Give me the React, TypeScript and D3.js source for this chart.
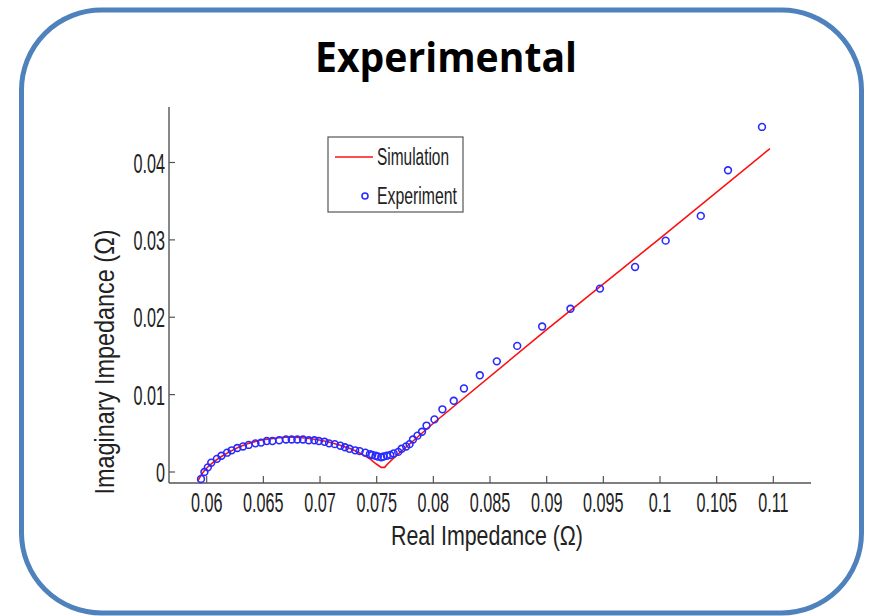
import React from "react";
import * as d3 from "d3";

const expX = [0.0595, 0.0598, 0.0601, 0.0604, 0.0609, 0.0613, 0.0618, 0.0622, 0.0627, 0.0632, 0.0637, 0.0643, 0.0648, 0.0653, 0.0658, 0.0664, 0.0670, 0.0675, 0.0680, 0.0685, 0.0690, 0.0695, 0.0699, 0.0704, 0.0708, 0.0713, 0.0718, 0.0722, 0.0726, 0.0731, 0.0735, 0.0740, 0.0744, 0.0746, 0.0749, 0.0751, 0.0754, 0.0756, 0.0759, 0.0762, 0.0765, 0.0769, 0.0772, 0.0776, 0.0779, 0.0782, 0.0786, 0.0790, 0.0794, 0.0801, 0.0808, 0.0818, 0.0827, 0.0841, 0.0856, 0.0874, 0.0896, 0.0921, 0.0947, 0.0978, 0.1005, 0.1036, 0.1060, 0.1090];
const expY = [-0.0009, 0.0000, 0.0006, 0.0012, 0.0017, 0.0021, 0.0025, 0.0028, 0.0031, 0.0033, 0.0035, 0.0037, 0.0038, 0.0040, 0.0040, 0.0041, 0.0042, 0.0042, 0.0042, 0.0042, 0.0041, 0.0041, 0.0040, 0.0039, 0.0037, 0.0036, 0.0034, 0.0032, 0.0030, 0.0028, 0.0027, 0.0025, 0.0023, 0.0022, 0.0021, 0.0020, 0.0019, 0.0020, 0.0021, 0.0022, 0.0024, 0.0026, 0.0030, 0.0033, 0.0036, 0.0042, 0.0047, 0.0052, 0.0060, 0.0068, 0.0081, 0.0092, 0.0108, 0.0125, 0.0143, 0.0163, 0.0188, 0.0211, 0.0237, 0.0265, 0.0299, 0.0331, 0.0390, 0.0446];

const simX = [0.0592, 0.0595, 0.0598, 0.0602, 0.0607, 0.0613, 0.0620, 0.0628, 0.0637, 0.0647, 0.0657, 0.0667, 0.0677, 0.0687, 0.0697, 0.0707, 0.0717, 0.0727, 0.0736, 0.0744, 0.0750, 0.0754, 0.0757, 0.0760, 0.0765, 0.0775, 0.0800, 0.0900, 0.1000, 0.1097];
const simY = [-0.0012, -0.0004, 0.0002, 0.0008, 0.0014, 0.0020, 0.0026, 0.0032, 0.0037, 0.0041, 0.0043, 0.0045, 0.0045, 0.0044, 0.0042, 0.0039, 0.0035, 0.0030, 0.0024, 0.0017, 0.0010, 0.0006, 0.0006, 0.0011, 0.0018, 0.0031, 0.0063, 0.0184, 0.0302, 0.0418];

const xTicks = [0.06, 0.065, 0.07, 0.075, 0.08, 0.085, 0.09, 0.095, 0.1, 0.105, 0.11];
const xTickLabels = ["0.06", "0.065", "0.07", "0.075", "0.08", "0.085", "0.09", "0.095", "0.1", "0.105", "0.11"];
const yTicks = [0, 0.01, 0.02, 0.03, 0.04];
const yTickLabels = ["0", "0.01", "0.02", "0.03", "0.04"];

const title = "Experimental";
const xLabel = "Real Impedance (Ω)";
const yLabel = "Imaginary Impedance (Ω)";
const seriesNames = ["Simulation", "Experiment"];

export default function App() {
  const W = 871, H = 616;
  const x = d3.scaleLinear().domain([0.06, 0.1]).range([206.7, 660]);
  const y = d3.scaleLinear().domain([0, 0.04]).range([472, 162.5]);
  const axL = 169, axB = 483, axR = 811, axT = 107;
  const line = d3.line<number>().x((_, i) => x(simX[i])).y((_, i) => y(simY[i]));
  const axisColor = "#555";
  const font = "'Liberation Sans', Arial, sans-serif";
  const sx = 0.6;
  return (
    <svg width={W} height={H} style={{ position: "absolute", left: 0, top: 0, background: "#fff" }}>
      <rect x={21.5} y={10} width={840} height={603} rx={80} ry={80} fill="none" stroke="#4F81BD" strokeWidth={5} />
      <text x={446} y={72} textAnchor="middle" fontFamily="'Open Sans', sans-serif" fontWeight="bold" fontSize={41} textLength={262} lengthAdjust="spacingAndGlyphs">{title}</text>
      {/* axes */}
      <line x1={axL} y1={axT} x2={axL} y2={axB} stroke={axisColor} strokeWidth={1.4} />
      <line x1={axL} y1={axB} x2={axR} y2={axB} stroke={axisColor} strokeWidth={1.4} />
      {xTicks.map((t, i) => (
        <g key={"xt" + i}>
          <line x1={x(t)} x2={x(t)} y1={axB} y2={axB - 7} stroke={axisColor} strokeWidth={1.2} />
          <text transform={`translate(${x(t)},${512}) scale(${sx},1)`} textAnchor="middle" fontFamily={font} fontSize={27} fill="#222">{xTickLabels[i]}</text>
        </g>
      ))}
      {yTicks.map((t, i) => (
        <g key={"yt" + i}>
          <line x1={axL} x2={axL + 6} y1={y(t)} y2={y(t)} stroke={axisColor} strokeWidth={1.2} />
          <text transform={`translate(${165},${y(t) + 10}) scale(${sx},1)`} textAnchor="end" fontFamily={font} fontSize={27} fill="#222">{yTickLabels[i]}</text>
        </g>
      ))}
      <text x={487} y={545} textAnchor="middle" fontFamily={font} fontSize={27} fill="#222" textLength={192} lengthAdjust="spacingAndGlyphs">{xLabel}</text>
      <g transform="translate(114,362) rotate(-90)">
        <text x={0} y={0} textAnchor="middle" fontFamily={font} fontSize={27} fill="#222" textLength={265} lengthAdjust="spacingAndGlyphs">{yLabel}</text>
      </g>
      {/* simulation */}
      <path d={line(simX) || ""} fill="none" stroke="#ff1010" strokeWidth={1.6} />
      {/* experiment */}
      {expX.map((v, i) => (
        <circle key={"e" + i} cx={x(v)} cy={y(expY[i])} r={3.4} fill="none" stroke="#2a2aff" strokeWidth={1.6} />
      ))}
      {/* legend */}
      <rect x={328} y={137} width={135} height={75} fill="#fff" stroke="#555" strokeWidth={1.2} />
      <line x1={335} x2={373} y1={157} y2={157} stroke="#ff1010" strokeWidth={1.6} />
      <text x={377} y={165} fontFamily={font} fontSize={23} fill="#222" textLength={72} lengthAdjust="spacingAndGlyphs">{seriesNames[0]}</text>
      <circle cx={365} cy={196} r={3} fill="none" stroke="#2a2aff" strokeWidth={1.6} />
      <text x={377} y={204} fontFamily={font} fontSize={23} fill="#222" textLength={80} lengthAdjust="spacingAndGlyphs">{seriesNames[1]}</text>
    </svg>
  );
}
